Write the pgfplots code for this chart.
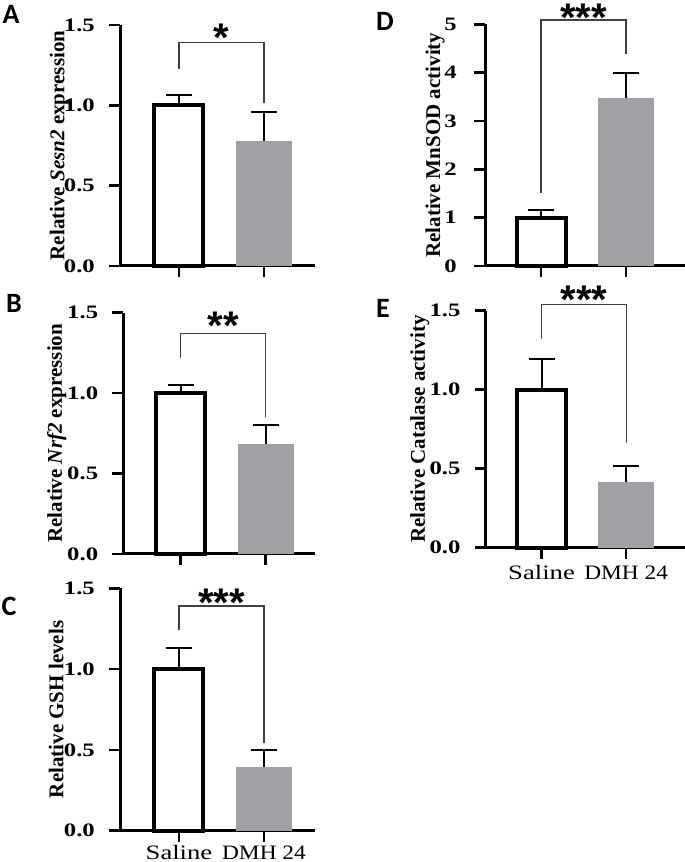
\documentclass[border=0pt]{standalone}
\usepackage{graphicx}
\usepackage{pgfplots}
\pgfplotsset{compat=1.18}
\usepackage{fontspec}
\setmainfont{Liberation Serif}
\newfontfamily\letterfont{Carlito}
\newfontfamily\starfont{Liberation Sans}
\definecolor{barg}{RGB}{160,160,164}
\newcommand{\yt}[1]{\scalebox{1.3}[1]{#1}}
\newcommand{\xt}[1]{\scalebox{1.3}[1]{#1}}
\newcommand{\xu}[1]{\scalebox{1.14}[1]{#1}}

\pgfplotsset{
 panel/.style={
  scale only axis, clip=false,
  at={(0pt,0pt)}, anchor=south west,
  axis x line*=bottom, axis y line*=left,
  axis line style={line width=3bp, black},
  tick style={line width=2.5bp, black},
  major tick length=11bp,
  tick align=outside,
  xtick={0,1},
  ymin=0,
  yticklabel style={font=\bfseries\fontsize{19bp}{22bp}\selectfont, anchor=east, inner sep=0pt, xshift=-14bp},
  xticklabel style={font=\fontsize{20.5bp}{24bp}\selectfont, anchor=base, inner sep=0pt, yshift=-20.5bp},
  ylabel style={font=\bfseries\fontsize{21bp}{24bp}\selectfont, anchor=base, inner sep=0pt},
 },
 salbar/.style={ybar, bar shift=0pt, bar width=49bp, fill=white, draw=black, line width=4bp,
   error bars/.cd, y dir=plus, y explicit,
   error bar style={line width=2bp, black},
   error mark options={rotate=90, line width=2bp, mark size=13bp, black}},
 dmhbar/.style={ybar, bar shift=0pt, bar width=56bp, fill=barg, draw=none,
   error bars/.cd, y dir=plus, y explicit,
   error bar style={line width=2bp, black},
   error mark options={rotate=90, line width=2bp, mark size=13bp, black}},
 brack/.style={mark=none, sharp plot, line width=1.2bp, draw=black!75},
}
\newcommand{\stars}[2]{\node[font=\starfont\bfseries\fontsize{40bp}{40bp}\selectfont, anchor=base, inner sep=0pt, yshift=-23bp] at (axis cs:0.5,#1) {#2};}

\begin{document}
\begin{tikzpicture}
\path[use as bounding box] (0bp,0bp) rectangle (685bp,862bp);

% Panel A
\begin{scope}[shift={(120bp,596bp)}]
\begin{axis}[panel, width=195bp, height=241bp,
  xmin=-0.694, xmax=1.6, ymax=1.5, ytick={0,0.5,1,1.5},
  yticklabels={\yt{0.0},\yt{0.5},\yt{1.0},\yt{1.5}},
  xticklabels={},
  ylabel={Relative \textit{Sesn2} expression},
  ylabel style={at={(axis description cs:-0.285,0.5)}}]
\addplot[salbar] coordinates {(0,1) +- (0,0.065)};
\addplot[dmhbar] coordinates {(1,0.778) +- (0,0.182)};
\addplot[brack] coordinates {(0,1.226) (0,1.39) (1,1.39) (1,1.016)};
\stars{1.48}{*}
\end{axis}
\end{scope}

% Panel B
\begin{scope}[shift={(123.3bp,308bp)}]
\begin{axis}[panel, width=191.7bp, height=241.3bp,
  xmin=-0.675, xmax=1.58, ymax=1.5, ytick={0,0.5,1,1.5},
  yticklabels={\yt{0.0},\yt{0.5},\yt{1.0},\yt{1.5}},
  xticklabels={},
  ylabel={Relative \textit{Nrf2} expression},
  ylabel style={at={(axis description cs:-0.32,0.5)}}]
\addplot[salbar] coordinates {(0,1) +- (0,0.05)};
\addplot[dmhbar] coordinates {(1,0.684) +- (0,0.116)};
\addplot[brack] coordinates {(0,1.217) (0,1.372) (1,1.372) (1,0.853)};
\stars{1.475}{**}
\end{axis}
\end{scope}

% Panel C
\begin{scope}[shift={(120bp,31.3bp)}]
\begin{axis}[panel, width=195bp, height=242.4bp,
  xmin=-0.694, xmax=1.6, ymax=1.5, ytick={0,0.5,1,1.5},
  yticklabels={\yt{0.0},\yt{0.5},\yt{1.0},\yt{1.5}},
  xticklabels={\xt{Saline},\xu{DMH 24}},
  xticklabel style={yshift=3bp},
  ylabel={Relative GSH levels},
  ylabel style={at={(axis description cs:-0.29,0.5)}}]
\addplot[salbar] coordinates {(0,1) +- (0,0.129)};
\addplot[dmhbar] coordinates {(1,0.396) +- (0,0.104)};
\addplot[brack] coordinates {(0,1.24) (0,1.39) (1,1.39) (1,0.545)};
\stars{1.469}{***}
\end{axis}
\end{scope}

% Panel D
\begin{scope}[shift={(485bp,596bp)}]
\begin{axis}[panel, width=200bp, height=241.7bp,
  xmin=-0.659, xmax=1.694, ymax=5, ytick={0,1,2,3,4,5},
  yticklabels={\yt{0},\yt{1},\yt{2},\yt{3},\yt{4},\yt{5}},
  yticklabel style={xshift=-3bp},
  xticklabels={},
  ylabel={Relative MnSOD activity},
  ylabel style={at={(axis description cs:-0.225,0.5)}}]
\addplot[salbar] coordinates {(0,1) +- (0,0.16)};
\addplot[dmhbar] coordinates {(1,3.48) +- (0,0.52)};
\addplot[brack] coordinates {(0,1.52) (0,5.09) (1,5.09) (1,4.38)};
\stars{5.32}{***}
\end{axis}
\end{scope}

% Panel E
\begin{scope}[shift={(485.7bp,314.3bp)}]
\begin{axis}[panel, width=199.3bp, height=237bp,
  xmin=-0.659, xmax=1.694, ymax=1.5, ytick={0,0.5,1,1.5},
  yticklabels={\yt{0.0},\yt{0.5},\yt{1.0},\yt{1.5}},
  xticklabels={\xt{Saline},\xu{DMH 24}},
  ylabel={Relative Catalase activity},
  ylabel style={at={(axis description cs:-0.305,0.5)}}]
\addplot[salbar] coordinates {(0,1) +- (0,0.194)};
\addplot[dmhbar] coordinates {(1,0.416) +- (0,0.104)};
\addplot[brack] coordinates {(0,1.32) (0,1.54) (1,1.54) (1,0.66)};
\stars{1.626}{***}
\end{axis}
\end{scope}

\begin{scope}[every node/.style={font=\letterfont\bfseries\fontsize{28bp}{28bp}\selectfont}]
\node at (11bp,848bp) {A};
\node at (14bp,559bp) {B};
\node at (9bp,256bp) {C};
\node at (385bp,841bp) {D};
\node at (383bp,554bp) {E};
\end{scope}
\end{tikzpicture}
\end{document}
